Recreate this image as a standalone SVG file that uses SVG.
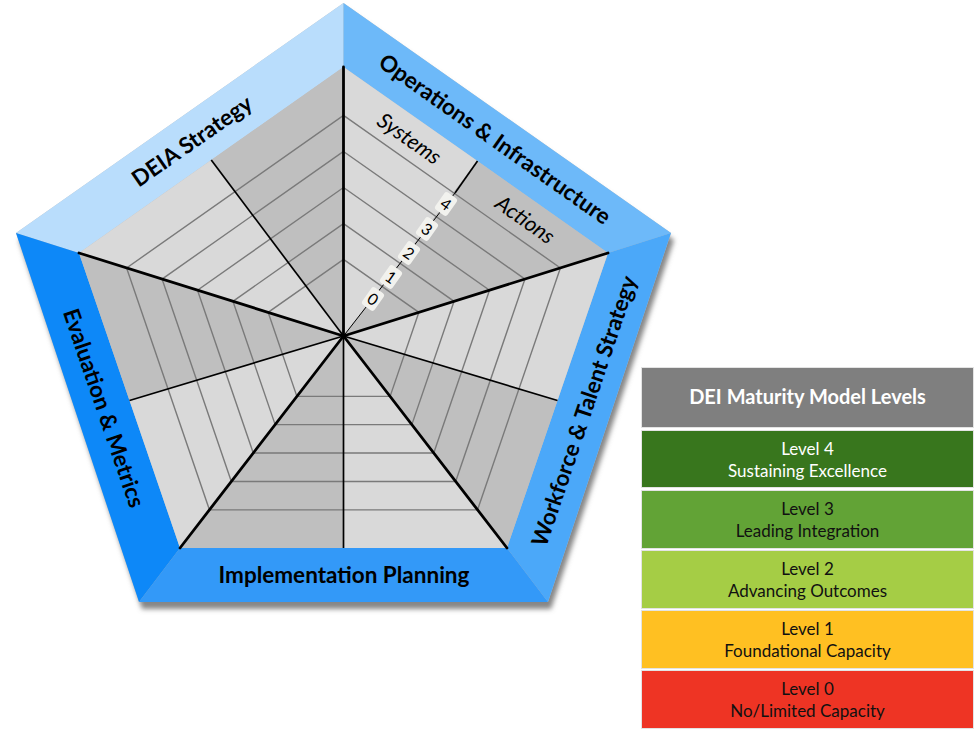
<svg xmlns="http://www.w3.org/2000/svg" width="977" height="734" viewBox="0 0 977 734">
<defs>
<filter id="sh" x="-10%" y="-10%" width="130%" height="130%">
<feGaussianBlur in="SourceAlpha" stdDeviation="2.5"/>
<feOffset dx="3" dy="7" result="b"/>
<feFlood flood-color="#808080" flood-opacity="0.95"/>
<feComposite in2="b" operator="in"/>
<feMerge><feMergeNode/><feMergeNode in="SourceGraphic"/></feMerge>
</filter>
<style>
.lt{fill:#D9D9D9}
.dk{fill:#BFBFBF}
.lvl{fill:none;stroke:#7A7A7A;stroke-width:1.4}
.spoke{stroke:#000;stroke-width:2.8;stroke-linecap:round}
.mid{stroke:#000;stroke-width:1.7}
.band{font-family:Lato,"Open Sans",sans-serif;font-weight:bold;font-size:22.5px;fill:#000;text-anchor:middle}
.sub{font-family:Lato,"Open Sans",sans-serif;font-style:italic;font-size:21.5px;fill:#000;text-anchor:middle}
.num{font-family:Lato,"Open Sans",sans-serif;font-size:16px;fill:#000;text-anchor:middle}
.nbox{fill:#F2F2EE}
.lg{stroke:#E3E3E3;stroke-width:1}
.lgt{font-family:Lato,"Open Sans",sans-serif;font-size:17px;text-anchor:middle}
.hdr{font-family:Lato,"Open Sans",sans-serif;font-weight:bold;font-size:20px;fill:#fff;text-anchor:middle}
</style>
</defs>
<rect width="977" height="734" fill="#fff"/>

<polygon points="343.5,3 671,233 548,602 139,602 16,233" fill="#BFBFBF" filter="url(#sh)"/>

<g id="band-deia">
<polygon points="16,233 343.5,3 343.5,67 79,253" fill="#B9DDFC"/>
<text class="band" transform="translate(192,141) rotate(-34.9)" y="8">DEIA Strategy</text>
</g>
<g id="band-operations">
<polygon points="343.5,3 671,233 608,253 343.5,67" fill="#6DB9F9"/>
<text class="band" transform="translate(495,139) rotate(35.2)" y="8">Operations &amp; Infrastructure</text>
</g>
<g id="band-workforce">
<polygon points="671,233 548,602 507,548 608,253" fill="#4BA8F9"/>
<text class="band" transform="translate(584,411) rotate(-71.3)" y="8">Workforce &amp; Talent Strategy</text>
</g>
<g id="band-implementation">
<polygon points="548,602 139,602 180,548 507,548" fill="#3399F8"/>
<text class="band" x="344" y="583">Implementation Planning</text>
</g>
<g id="band-evaluation">
<polygon points="139,602 16,233 79,253 180,548" fill="#0D88F8"/>
<text class="band" transform="translate(104,408) rotate(71.1)" y="8">Evaluation &amp; Metrics</text>
</g>

<g id="sectors">
<polygon class="lt" points="343.5,336 343.5,67 477.5,161"/>
<polygon class="dk" points="343.5,336 477.5,161 608,253"/>
<polygon class="lt" points="343.5,336 608,253 557.5,400.5"/>
<polygon class="dk" points="343.5,336 557.5,400.5 507,548"/>
<polygon class="lt" points="343.5,336 507,548 343.5,548"/>
<polygon class="dk" points="343.5,336 343.5,548 180,548"/>
<polygon class="lt" points="343.5,336 180,548 129.5,400.5"/>
<polygon class="dk" points="343.5,336 129.5,400.5 79,253"/>
<polygon class="lt" points="343.5,336 79,253 211.25,160"/>
<polygon class="dk" points="343.5,336 211.25,160 343.5,67"/>
</g>

<g id="levels">
<polygon class="lvl" points="343.5,259.33 418.88,312.34 390.10,396.42 296.90,396.42 268.12,312.34"/>
<polygon class="lvl" points="343.5,223.56 454.06,301.31 411.84,424.62 275.16,424.62 232.94,301.31"/>
<polygon class="lvl" points="343.5,187.51 489.5,290.18 433.75,453.02 253.25,453.02 197.5,290.18"/>
<polygon class="lvl" points="343.5,151.47 524.95,279.06 455.66,481.43 231.34,481.43 162.05,279.06"/>
<polygon class="lvl" points="343.5,115.42 560.39,267.94 477.57,509.84 209.43,509.84 126.61,267.94"/>
</g>

<g id="connectors">
<line class="mid" x1="343.5" y1="336" x2="557.5" y2="400.5"/>
<line class="mid" x1="343.5" y1="336" x2="343.5" y2="548"/>
<line class="mid" x1="343.5" y1="336" x2="129.5" y2="400.5"/>
<line class="mid" x1="343.5" y1="336" x2="211.25" y2="160"/>
<line class="mid" x1="455" y1="193" x2="477.5" y2="161"/>
<line x1="343.5" y1="336" x2="455" y2="193" stroke="#000" stroke-width="1"/>
<line class="spoke" x1="343.5" y1="336" x2="343.5" y2="67"/>
<line class="spoke" x1="343.5" y1="336" x2="608" y2="253"/>
<line class="spoke" x1="343.5" y1="336" x2="507" y2="548"/>
<line class="spoke" x1="343.5" y1="336" x2="180" y2="548"/>
<line class="spoke" x1="343.5" y1="336" x2="79" y2="253"/>
</g>

<g id="sub-labels">
<text class="sub" transform="translate(409,139) rotate(35.2)" y="7">Systems</text>
<text class="sub" transform="translate(525,220) rotate(35.2)" y="7">Actions</text>
</g>

<g id="scale">
<g transform="translate(373,299) rotate(35.2)"><rect class="nbox" x="-7.5" y="-10.5" width="15" height="21" rx="3"/><text class="num" y="6">0</text></g>
<g transform="translate(391,277) rotate(35.2)"><rect class="nbox" x="-7.5" y="-10.5" width="15" height="21" rx="3"/><text class="num" y="6">1</text></g>
<g transform="translate(409,253) rotate(35.2)"><rect class="nbox" x="-7.5" y="-10.5" width="15" height="21" rx="3"/><text class="num" y="6">2</text></g>
<g transform="translate(427,229) rotate(35.2)"><rect class="nbox" x="-7.5" y="-10.5" width="15" height="21" rx="3"/><text class="num" y="6">3</text></g>
<g transform="translate(446,204) rotate(35.2)"><rect class="nbox" x="-7.5" y="-10.5" width="15" height="21" rx="3"/><text class="num" y="6">4</text></g>
</g>

<g id="legend-header">
<rect class="lg" x="641.5" y="367.5" width="332" height="60" fill="#7F7F7F"/>
<text class="hdr" x="807.5" y="404">DEI Maturity Model Levels</text>
</g>
<g id="legend-level4">
<rect class="lg" x="641.5" y="430.5" width="332" height="57" fill="#38761D"/>
<text class="lgt" x="807.5" y="455" fill="#fff">Level 4</text>
<text class="lgt" x="807.5" y="477" fill="#fff">Sustaining Excellence</text>
</g>
<g id="legend-level3">
<rect class="lg" x="641.5" y="490.5" width="332" height="58" fill="#62A336"/>
<text class="lgt" x="807.5" y="515" fill="#111">Level 3</text>
<text class="lgt" x="807.5" y="537" fill="#111">Leading Integration</text>
</g>
<g id="legend-level2">
<rect class="lg" x="641.5" y="550.5" width="332" height="58" fill="#A5CD45"/>
<text class="lgt" x="807.5" y="575" fill="#111">Level 2</text>
<text class="lgt" x="807.5" y="597" fill="#111">Advancing Outcomes</text>
</g>
<g id="legend-level1">
<rect class="lg" x="641.5" y="610.5" width="332" height="58" fill="#FFC022"/>
<text class="lgt" x="807.5" y="635" fill="#111">Level 1</text>
<text class="lgt" x="807.5" y="657" fill="#111">Foundational Capacity</text>
</g>
<g id="legend-level0">
<rect class="lg" x="641.5" y="670.5" width="332" height="58" fill="#EE3424"/>
<text class="lgt" x="807.5" y="695" fill="#111">Level 0</text>
<text class="lgt" x="807.5" y="717" fill="#111">No/Limited Capacity</text>
</g>
</svg>
